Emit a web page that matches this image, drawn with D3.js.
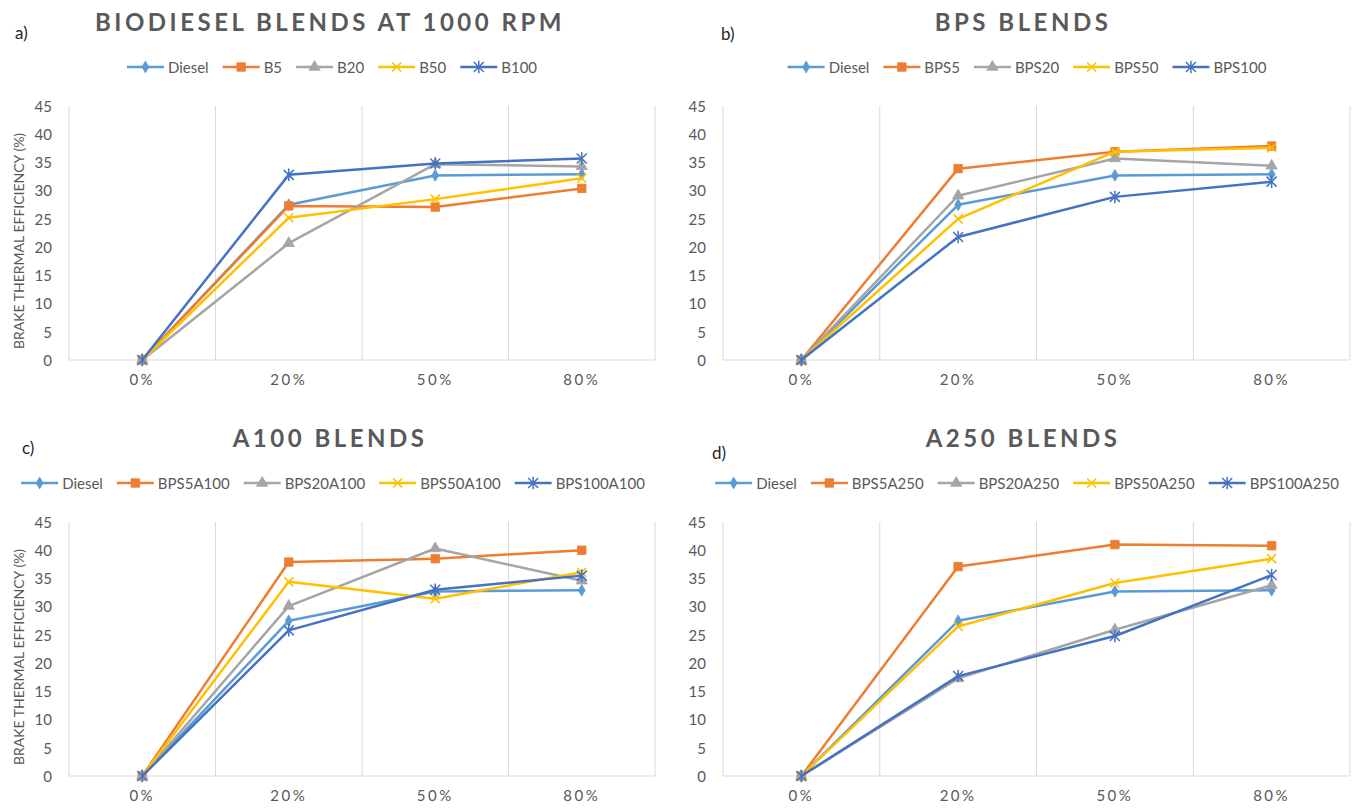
<!DOCTYPE html>
<html>
<head>
<meta charset="utf-8">
<script src="https://cdn.jsdelivr.net/npm/d3@7"></script>
<style>
  html, body { margin: 0; padding: 0; background: #ffffff; }
  svg { display: block; }
  text { font-family: Lato, "Open Sans", "Liberation Sans", sans-serif; }
</style>
</head>
<body>
<svg id="chart" width="1359" height="808"></svg>
<script>
// Engine load categories and the value axis ticks
const loads = ["0%", "20%", "50%", "80%"];
const yTicks = [0, 5, 10, 15, 20, 25, 30, 35, 40, 45];

// Brake thermal efficiency (%) of the reference diesel fuel
const dieselBTE = [0, 27.5, 32.7, 32.9];

// a) Biodiesel blends at 1000 rpm
const blendsA = ["Diesel", "B5", "B20", "B50", "B100"];
const b5 = [0, 27.3, 27.1, 30.4];
const b20 = [0, 20.7, 34.7, 34.3];
const b50 = [0, 25.2, 28.5, 32.2];
const b100 = [0, 32.8, 34.8, 35.7];

// b) BPS blends
const blendsB = ["Diesel", "BPS5", "BPS20", "BPS50", "BPS100"];
const bps5 = [0, 33.9, 36.9, 37.9];
const bps20 = [0, 29.1, 35.7, 34.4];
const bps50 = [0, 25.0, 36.9, 37.6];
const bps100 = [0, 21.8, 28.9, 31.6];

// c) BPS blends with A100 additive
const blendsC = ["Diesel", "BPS5A100", "BPS20A100", "BPS50A100", "BPS100A100"];
const bps5a100 = [0, 37.9, 38.5, 40.0];
const bps20a100 = [0, 30.1, 40.3, 34.6];
const bps50a100 = [0, 34.4, 31.4, 36.1];
const bps100a100 = [0, 25.8, 33.0, 35.5];

// d) BPS blends with A250 additive
const blendsD = ["Diesel", "BPS5A250", "BPS20A250", "BPS50A250", "BPS100A250"];
const bps5a250 = [0, 37.1, 41.0, 40.8];
const bps20a250 = [0, 17.3, 25.9, 33.8];
const bps50a250 = [0, 26.5, 34.2, 38.5];
const bps100a250 = [0, 17.7, 24.8, 35.6];

const seriesColors = ["#5B9BD5", "#ED7D31", "#A5A5A5", "#FFC000", "#4472C4"];
const markerKinds = ["diamond", "square", "triangle", "cross", "star"];

const panels = [
  { tag: "a)", title: "BIODIESEL BLENDS AT 1000 RPM", names: blendsA,
    values: [dieselBTE, b5, b20, b50, b100],
    left: 69, right: 655, top: 106, bottom: 360,
    titleX: 330, titleY: 21, legendX: 332, legendY: 67, tagX: 15, tagY: 32, yTitle: true },
  { tag: "b)", title: "BPS BLENDS", names: blendsB,
    values: [dieselBTE, bps5, bps20, bps50, bps100],
    left: 723, right: 1350, top: 106, bottom: 360,
    titleX: 1023, titleY: 21, legendX: 1027, legendY: 67, tagX: 721, tagY: 33, yTitle: false },
  { tag: "c)", title: "A100 BLENDS", names: blendsC,
    values: [dieselBTE, bps5a100, bps20a100, bps50a100, bps100a100],
    left: 69, right: 655, top: 522, bottom: 776,
    titleX: 330, titleY: 437, legendX: 333, legendY: 483, tagX: 22, tagY: 447, yTitle: true },
  { tag: "d)", title: "A250 BLENDS", names: blendsD,
    values: [dieselBTE, bps5a250, bps20a250, bps50a250, bps100a250],
    left: 723, right: 1350, top: 522, bottom: 776,
    titleX: 1023, titleY: 437, legendX: 1027, legendY: 483, tagX: 712, tagY: 452, yTitle: false }
];

const svg = d3.select("#chart");
const TEXT_GREY = "#595959";
const GRID = "#D9D9D9";

// Marker glyphs in the style of spreadsheet line charts
function drawMarker(g, kind, color) {
  if (kind === "diamond") {
    g.append("path").attr("d", d3.symbol().type(d3.symbolDiamond).size(40)())
      .attr("fill", color).attr("stroke", color).attr("stroke-width", 0.8);
  } else if (kind === "square") {
    g.append("path").attr("d", d3.symbol().type(d3.symbolSquare).size(72)())
      .attr("fill", color).attr("stroke", color).attr("stroke-width", 0.8);
  } else if (kind === "triangle") {
    g.append("path").attr("d", d3.symbol().type(d3.symbolTriangle).size(55)())
      .attr("fill", color).attr("stroke", color).attr("stroke-width", 0.8);
  } else if (kind === "cross") {
    const r = 4.5;
    g.append("path").attr("d", `M${-r},${-r}L${r},${r}M${-r},${r}L${r},${-r}`)
      .attr("fill", "none").attr("stroke", color).attr("stroke-width", 1.6);
  } else if (kind === "star") {
    const r = 5;
    g.append("path").attr("d", `M${-r},${-r}L${r},${r}M${-r},${r}L${r},${-r}M0,${-r * 1.25}L0,${r * 1.25}`)
      .attr("fill", "none").attr("stroke", color).attr("stroke-width", 1.5);
  }
}

panels.forEach(p => {
  const g = svg.append("g");

  const x = d3.scaleBand().domain(loads).range([p.left, p.right]).padding(0);
  const y = d3.scaleLinear().domain([0, 45]).range([p.bottom, p.top]);
  const cx = d => x(d) + x.bandwidth() / 2;

  // Vertical gridlines on category boundaries
  const bounds = loads.map(d => x(d)).concat([x(loads[loads.length - 1]) + x.bandwidth()]);
  g.selectAll("line.grid").data(bounds).join("line")
    .attr("class", "grid")
    .attr("x1", d => d).attr("x2", d => d)
    .attr("y1", y(45)).attr("y2", y(0))
    .attr("stroke", GRID).attr("stroke-width", 1);

  // Category axis baseline
  g.append("line")
    .attr("x1", p.left).attr("x2", p.right)
    .attr("y1", y(0)).attr("y2", y(0))
    .attr("stroke", GRID).attr("stroke-width", 1.2);

  // Value axis labels
  const yAxis = g.append("g").attr("transform", `translate(${p.left},0)`)
    .call(d3.axisLeft(y).tickValues(yTicks).tickSize(0).tickPadding(17));
  yAxis.select(".domain").remove();
  yAxis.selectAll("text")
    .attr("fill", TEXT_GREY).style("font-size", "15px")
    .style("font-family", "Lato, sans-serif").attr("dy", "0.35em");

  // Category axis labels
  const xAxis = g.append("g").attr("transform", `translate(0,${y(0)})`)
    .call(d3.axisBottom(x).tickSize(0));
  xAxis.select(".domain").remove();
  xAxis.selectAll("text")
    .attr("y", 20).attr("dy", "0.35em")
    .attr("fill", TEXT_GREY).style("font-size", "15px")
    .style("font-family", "Lato, sans-serif")
    .style("letter-spacing", "2.5px");

  // Series lines with markers
  const line = d3.line().x((d, i) => cx(loads[i])).y(d => y(d));
  p.values.forEach((vals, si) => {
    const color = seriesColors[si];
    g.append("path").datum(vals)
      .attr("d", line)
      .attr("fill", "none").attr("stroke", color)
      .attr("stroke-width", 2.5).attr("stroke-linejoin", "round");
    vals.forEach((v, i) => {
      const mg = g.append("g").attr("transform", `translate(${cx(loads[i])},${y(v)})`);
      drawMarker(mg, markerKinds[si], color);
    });
  });

  // Chart title
  g.append("text")
    .attr("x", p.titleX).attr("y", p.titleY)
    .attr("text-anchor", "middle").attr("dominant-baseline", "central")
    .attr("fill", TEXT_GREY)
    .style("font-size", "24px").style("font-weight", "bold")
    .style("letter-spacing", "3.5px")
    .text(p.title);

  // Panel tag
  g.append("text")
    .attr("x", p.tagX).attr("y", p.tagY)
    .attr("dominant-baseline", "central")
    .attr("fill", "#262626").style("font-size", "17px")
    .text(p.tag);

  // Value axis title
  if (p.yTitle) {
    g.append("text")
      .attr("transform", `translate(18,${(p.top + p.bottom) / 2 + 8}) rotate(-90)`)
      .attr("text-anchor", "middle").attr("dominant-baseline", "central")
      .attr("fill", TEXT_GREY).style("font-size", "14px")
      .text("BRAKE THERMAL EFFICIENCY (%)");
  }

  // Legend, centred above the plot
  const lg = g.append("g");
  const lineLen = 37, gapText = 4, gapItem = 14;
  const items = p.names.map((name, si) => {
    const it = lg.append("g");
    it.append("line").attr("x1", 0).attr("x2", lineLen).attr("y1", 0).attr("y2", 0)
      .attr("stroke", seriesColors[si]).attr("stroke-width", 2.5);
    const mg = it.append("g").attr("transform", `translate(${lineLen / 2},0)`);
    drawMarker(mg, markerKinds[si], seriesColors[si]);
    const t = it.append("text").attr("x", lineLen + gapText).attr("y", 0)
      .attr("dominant-baseline", "central")
      .attr("fill", TEXT_GREY).style("font-size", "15px").text(name);
    return { it, w: lineLen + gapText + t.node().getComputedTextLength() };
  });
  const total = d3.sum(items, d => d.w) + gapItem * (items.length - 1);
  let pos = p.legendX - total / 2;
  items.forEach(d => {
    d.it.attr("transform", `translate(${pos},${p.legendY})`);
    pos += d.w + gapItem;
  });
});
</script>
</body>
</html>
